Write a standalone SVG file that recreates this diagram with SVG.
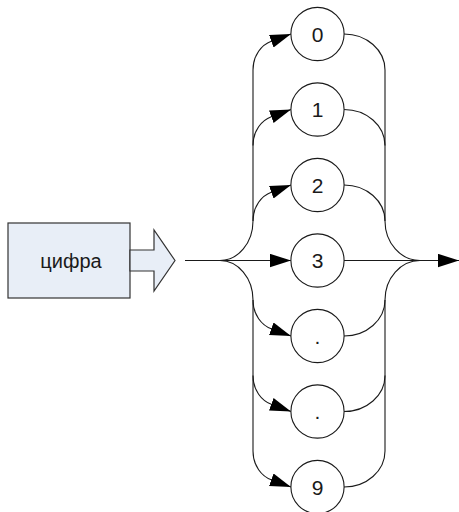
<svg xmlns="http://www.w3.org/2000/svg" width="459" height="512" viewBox="0 0 459 512">
<style>
.box{fill:#E8EEF7;stroke:#333;stroke-width:1.2}
.node circle{fill:#fff;stroke:#1a1a1a;stroke-width:1.1}
.lbl{font-family:"Liberation Sans",Arial,sans-serif;font-size:21px;fill:#1a1a1a;text-anchor:middle}
.c path{fill:none;stroke:#1a1a1a;stroke-width:1.1}
.c path.a{marker-end:url(#ah)}
</style>
<defs>
<marker id="ah" markerUnits="userSpaceOnUse" markerWidth="22" markerHeight="14" refX="21" refY="6.7" orient="auto" viewBox="0 0 22 14">
<path d="M0,0 L21,6.7 L0,13.4 z" fill="#000"/>
</marker>
</defs>
<g id="node-cifra">
<rect class="box" x="8" y="223" width="122" height="75"/>
<text class="lbl" x="71" y="268" style="font-size:20px">цифра</text>
</g>
<g id="block-arrow">
<polygon class="box" points="130,250 154,250 154,230 175,260.5 154,291 154,271 130,271"/>
</g>
<g id="connectors" class="c">
<path class="a" d="M185,260.5 L291,260.5"/>
<path class="a" d="M344,260.5 L459,260.5"/>
<path d="M220,260.5 C238.2,260.5 253,242.8 253,221 L253,70"/>
<path d="M220,260.5 C238.2,260.5 253,278.2 253,300 L253,451"/>
<path class="a" d="M253,70 C253,55 261.9,44.6 271.3,41.2 L291,34"/>
<path class="a" d="M253,145.5 C253,130.5 261.9,120.1 271.3,116.7 L291,109.5"/>
<path class="a" d="M253,221 C253,206 261.9,195.6 271.3,192.2 L291,185"/>
<path class="a" d="M253,300 C253,315 261.9,325.4 271.3,328.8 L291,336"/>
<path class="a" d="M253,375.5 C253,390.5 261.9,400.9 271.3,404.3 L291,411.5"/>
<path class="a" d="M253,451 C253,466 261.9,476.4 271.3,479.8 L291,487"/>
<path d="M344,34 C366.6,34 385,50.1 385,70 L385,221 C385,242.8 400.7,260.5 420,260.5"/>
<path d="M344,109.5 C366.6,109.5 385,125.6 385,145.5"/>
<path d="M344,185 C366.6,185 385,201.1 385,221"/>
<path d="M344,487 C366.6,487 385,470.9 385,451 L385,300 C385,278.2 400.7,260.5 420,260.5"/>
<path d="M344,336 C366.6,336 385,319.9 385,300"/>
<path d="M344,411.5 C366.6,411.5 385,395.4 385,375.5"/>
</g>
<g id="node-0" class="node"><circle cx="317.5" cy="34" r="26.6"/><text class="lbl" x="317.5" y="41.6">0</text></g>
<g id="node-1" class="node"><circle cx="317.5" cy="109.5" r="26.6"/><text class="lbl" x="317.5" y="117.1">1</text></g>
<g id="node-2" class="node"><circle cx="317.5" cy="185" r="26.6"/><text class="lbl" x="317.5" y="192.6">2</text></g>
<g id="node-3" class="node"><circle cx="317.5" cy="260.5" r="26.6"/><text class="lbl" x="317.5" y="268.1">3</text></g>
<g id="node-4" class="node"><circle cx="317.5" cy="336" r="26.6"/><text class="lbl" x="317.5" y="343.6">.</text></g>
<g id="node-5" class="node"><circle cx="317.5" cy="411.5" r="26.6"/><text class="lbl" x="317.5" y="419.1">.</text></g>
<g id="node-6" class="node"><circle cx="317.5" cy="487" r="26.6"/><text class="lbl" x="317.5" y="494.6">9</text></g>
</svg>
